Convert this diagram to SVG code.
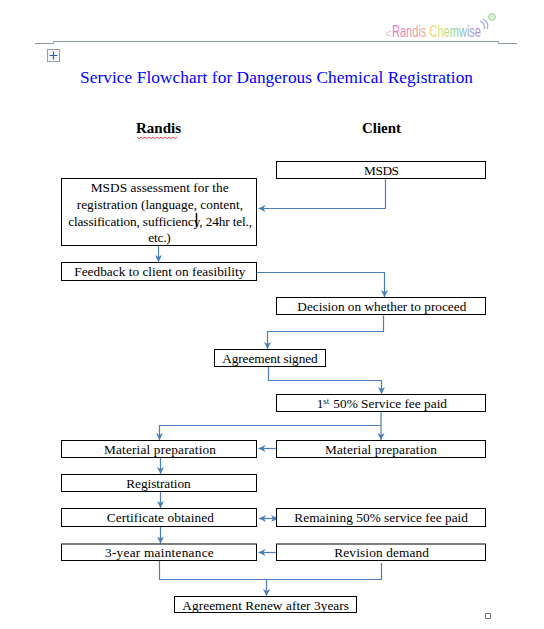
<svg xmlns="http://www.w3.org/2000/svg" width="544" height="629" viewBox="0 0 544 629">
<defs>
<linearGradient id="rb" gradientUnits="userSpaceOnUse" x1="392" y1="0" x2="481" y2="0">
<stop offset="0" stop-color="#d878c8"/><stop offset="0.3" stop-color="#f0a0a0"/><stop offset="0.5" stop-color="#e8e070"/><stop offset="0.7" stop-color="#90d8a0"/><stop offset="1" stop-color="#b088e0"/>
</linearGradient>
<marker id="a" viewBox="0 0 8 8" refX="7" refY="4" markerWidth="8" markerHeight="8" orient="auto" markerUnits="userSpaceOnUse"><path d="M0 0.500L7 4L0 7.500L2 4Z" fill="#4a7ebb"/></marker>
<marker id="s" viewBox="0 0 8 8" refX="1" refY="4" markerWidth="8" markerHeight="8" orient="auto" markerUnits="userSpaceOnUse"><path d="M8 0.500L1 4L8 7.500L6 4Z" fill="#4a7ebb"/></marker>
</defs>
<style>
.b{fill:#fff;stroke:#000;stroke-width:1}
.t{font-family:"Liberation Serif","Times New Roman",serif;font-size:13.300px;fill:#000}
.h{font-family:"Liberation Serif","Times New Roman",serif;font-size:15px;font-weight:bold;fill:#000;text-anchor:middle}
.c{fill:none;stroke:#4a7ebb;stroke-width:1.200;marker-end:url(#a)}
.p{fill:none;stroke:#4a7ebb;stroke-width:1.200}
</style>
<rect width="544" height="629" fill="#fff"/>
<g id="header">
<path d="M35 43.500H53.500V41.500H498.500V43.500H517" fill="none" stroke="#8a9a8a"/>
<text x="392" y="37" font-family="Liberation Sans,Arial,sans-serif" font-size="17" fill="url(#rb)" textLength="89" lengthAdjust="spacingAndGlyphs">Randis Chemwise</text>
<path d="M386 33.500L391 31M386 34.500L391 36" fill="none" stroke="#c8c8c8"/>
<path d="M480 21Q486 24 484 29M483 19Q490 23 487 29" fill="none" stroke="#a0a8e8" stroke-width="1.200"/>
<circle cx="492" cy="17" r="3.500" fill="#d8f0d0" stroke="#a0d8a0"/>
<rect x="47.500" y="49.500" width="12" height="12" fill="#f4f6fa" stroke="#9a9aa8"/>
<path d="M53.500 51.500V59.500M49.500 55.500H57.500" stroke="#2a5cc0" fill="none" stroke-width="1.200"/>
<rect x="485.500" y="613.500" width="5" height="5" fill="#fff" stroke="#777"/>
</g>
<text id="title" x="80" y="83" font-family="Liberation Serif,Times New Roman,serif" font-size="17.300" fill="#0000ff" textLength="393">Service Flowchart for Dangerous Chemical Registration</text>
<g id="heading-randis"><text class="h" x="158.500" y="133">Randis</text><path d="M137 137l2 1.500l2-1.500l2 1.500l2-1.500l2 1.500l2-1.500l2 1.500l2-1.500l2 1.500l2-1.500l2 1.500l2-1.500l2 1.500l2-1.500l2 1.500l2-1.500l2 1.500l2-1.500l2 1.500l2-1.500" fill="none" stroke="#e02020" stroke-width="0.800"/></g>
<g id="heading-client"><text class="h" x="381.500" y="133">Client</text></g>
<g id="connectors">
<path class="c" d="M385.500 178.500V208.500H258.500"/>
<path class="c" d="M158.500 245.500V262"/>
<path class="c" d="M257 272.500H384.500V297"/>
<path class="c" d="M383.500 315.500V331.500H267.500V349"/>
<path class="c" d="M268.500 366.500V380.500H381.500V394"/>
<path class="c" d="M381 411.500V440"/>
<path class="c" d="M381 425.500H159.500V440"/>
<path class="c" d="M277 448.500H258.500"/>
<path class="c" d="M160.500 457.500V474"/>
<path class="c" d="M160.500 491.500V508"/>
<path style="fill:none;stroke:#4a7ebb;stroke-width:1.200;marker-start:url(#s);marker-end:url(#a)" d="M259 518.500H278"/>
<path class="c" d="M160.500 526.500V543.500"/>
<path class="c" d="M277 552.500H258.500"/>
<path class="p" d="M159.500 560.500V579.500H381.500V563"/>
<path class="c" d="M266.500 579.500V596"/>
</g>
<g id="n-msds"><rect class="b" x="276.500" y="161.500" width="209" height="17"/><text class="t" x="364" y="175" textLength="35">MSDS</text></g>
<g id="n-assess"><rect class="b" x="61.500" y="178.500" width="195" height="67"/>
<text class="t" x="90.700" y="192" textLength="138">MSDS assessment for the</text>
<text class="t" x="76.700" y="209" textLength="166.300">registration (language, content,</text>
<text class="t" x="68.300" y="225.500" textLength="183.700">classification, sufficiency, 24hr tel.,</text>
<text class="t" x="148.300" y="242" textLength="22.400">etc.)</text>
<path d="M196.500 213V227" stroke="#000" stroke-width="1.500"/></g>
<g id="n-feedback"><rect class="b" x="61.500" y="262.500" width="195" height="18"/><text class="t" x="74.300" y="276" textLength="171">Feedback to client on feasibility</text></g>
<g id="n-decision"><rect class="b" x="276.500" y="297.500" width="209" height="17"/><text class="t" x="297.300" y="311" textLength="169">Decision on whether to proceed</text></g>
<g id="n-signed"><rect class="b" x="214.500" y="349.500" width="111" height="17"/><text class="t" x="222.300" y="363" textLength="95.300">Agreement signed</text></g>
<g id="n-first"><rect class="b" x="276.500" y="394.500" width="209" height="17"/><text class="t" x="316.700" y="408">1<tspan font-size="8.500" dy="-4">st</tspan></text><text class="t" x="333.300" y="408" textLength="113.700">50% Service fee paid</text></g>
<g id="n-mat-r"><rect class="b" x="61.500" y="440.500" width="195" height="17"/><text class="t" x="104" y="454" textLength="112">Material preparation</text></g>
<g id="n-mat-c"><rect class="b" x="276.500" y="440.500" width="209" height="17"/><text class="t" x="325" y="454" textLength="112">Material preparation</text></g>
<g id="n-reg"><rect class="b" x="61.500" y="474.500" width="195" height="17"/><text class="t" x="126.300" y="488" textLength="64.400">Registration</text></g>
<g id="n-cert"><rect class="b" x="61.500" y="508.500" width="195" height="18"/><text class="t" x="106.700" y="522" textLength="107.300">Certificate obtained</text></g>
<g id="n-rem"><rect class="b" x="276.500" y="508.500" width="209" height="18"/><text class="t" x="294.300" y="522" textLength="173.700">Remaining 50% service fee paid</text></g>
<g id="n-maint"><rect class="b" x="61.500" y="544" width="195" height="16.500"/><text class="t" x="105" y="557" textLength="108.700">3-year maintenance</text></g>
<g id="n-rev"><rect class="b" x="276.500" y="544" width="209" height="16.500"/><text class="t" x="334.300" y="557" textLength="94.700">Revision demand</text></g>
<g id="n-renew"><rect class="b" x="174.500" y="596.500" width="182" height="16"/><text class="t" x="182.300" y="610" textLength="166.700">Agreement Renew after 3years</text></g>
</svg>
